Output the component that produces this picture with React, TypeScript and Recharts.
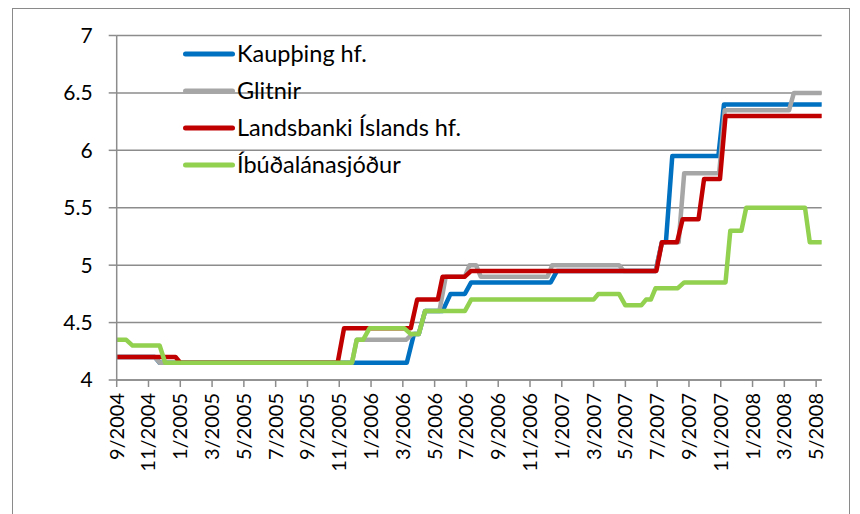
import React from "react";
import { LineChart, Line, XAxis, YAxis, CartesianGrid, Legend } from "recharts";

// x positions are in months since 9/2004
const tickMonths = [0, 2, 4, 6, 8, 10, 12, 14, 16, 18, 20, 22, 24, 26, 28, 30, 32, 34, 36, 38, 40, 42, 44];
const tickLabels = [
  "9/2004", "11/2004", "1/2005", "3/2005", "5/2005", "7/2005", "9/2005", "11/2005",
  "1/2006", "3/2006", "5/2006", "7/2006", "9/2006", "11/2006", "1/2007", "3/2007",
  "5/2007", "7/2007", "9/2007", "11/2007", "1/2008", "3/2008", "5/2008",
];
const yTicks = [4, 4.5, 5, 5.5, 6, 6.5, 7];

const seriesNames = ["Kaupþing hf.", "Glitnir", "Landsbanki Íslands hf.", "Íbúðalánasjóður"];
const seriesColors = ["#0070C0", "#A6A6A6", "#C00000", "#92D050"];

const kaupthingX = [0, 2.4, 2.7, 18.25, 18.7, 19.0, 19.4, 20.5, 21.0, 21.9, 22.3, 27.3, 27.7, 33.9, 34.3, 34.55, 34.95, 37.85, 38.2, 44.32];
const kaupthingY = [4.2, 4.2, 4.15, 4.15, 4.4, 4.4, 4.6, 4.6, 4.75, 4.75, 4.85, 4.85, 4.95, 4.95, 5.2, 5.2, 5.95, 5.95, 6.4, 6.4];

const glitnirX = [0, 2.4, 2.7, 14.8, 15.1, 18.2, 18.6, 19.0, 19.4, 20.3, 20.7, 21.9, 22.2, 22.6, 22.9, 27.1, 27.4, 31.6, 31.9, 33.9, 34.3, 35.35, 35.7, 37.9, 38.25, 42.3, 42.6, 44.32];
const glitnirY = [4.2, 4.2, 4.15, 4.15, 4.35, 4.35, 4.4, 4.4, 4.6, 4.6, 4.9, 4.9, 5.0, 5.0, 4.9, 4.9, 5.0, 5.0, 4.95, 4.95, 5.2, 5.2, 5.8, 5.8, 6.35, 6.35, 6.5, 6.5];

const landsbankiX = [0, 3.7, 4.0, 13.9, 14.3, 18.5, 18.9, 20.2, 20.5, 21.9, 22.3, 33.95, 34.3, 35.25, 35.6, 36.6, 36.95, 37.95, 38.3, 44.32];
const landsbankiY = [4.2, 4.2, 4.15, 4.15, 4.45, 4.45, 4.7, 4.7, 4.9, 4.9, 4.95, 4.95, 5.2, 5.2, 5.4, 5.4, 5.75, 5.75, 6.3, 6.3];

const ibudalanX = [0, 0.6, 1.0, 2.7, 3.05, 14.8, 15.1, 15.5, 15.9, 18.1, 18.5, 19.0, 19.4, 21.9, 22.3, 30.0, 30.3, 31.6, 32.0, 33.0, 33.3, 33.6, 33.9, 35.3, 35.7, 38.3, 38.6, 39.3, 39.6, 43.3, 43.6, 44.32];
const ibudalanY = [4.35, 4.35, 4.3, 4.3, 4.15, 4.15, 4.35, 4.35, 4.45, 4.45, 4.4, 4.4, 4.6, 4.6, 4.7, 4.7, 4.75, 4.75, 4.65, 4.65, 4.7, 4.7, 4.8, 4.8, 4.85, 4.85, 5.3, 5.3, 5.5, 5.5, 5.2, 5.2];

const toPoints = (xs: number[], ys: number[]) => xs.map((x, i) => ({ x, y: ys[i] }));
const seriesData = [
  toPoints(kaupthingX, kaupthingY),
  toPoints(glitnirX, glitnirY),
  toPoints(landsbankiX, landsbankiY),
  toPoints(ibudalanX, ibudalanY),
];

const FONT = "Lato, 'Open Sans', sans-serif";
const AXIS = "#8c8c8c";

const XTick = (props: any) => {
  const { x, y, payload } = props;
  const idx = tickMonths.indexOf(payload.value);
  return (
    <text
      x={x}
      y={y}
      transform={`rotate(-90, ${x}, ${y})`}
      textAnchor="end"
      dy="0.35em"
      fill="#000"
      fontSize={20}
      fontFamily={FONT}
    >
      {idx >= 0 ? tickLabels[idx] : ""}
    </text>
  );
};

const renderLegend = () => (
  <div style={{ fontFamily: FONT, fontSize: 23.5, color: "#000", lineHeight: 1 }}>
    {seriesNames.map((n, i) => (
      <div key={n} style={{ display: "flex", alignItems: "center", height: 37, whiteSpace: "nowrap" }}>
        <svg width={57} height={10} style={{ display: "block" }}>
          <line x1={5.5} y1={5} x2={52.5} y2={5} stroke={seriesColors[i]} strokeWidth={5} strokeLinecap="round" />
        </svg>
        <span>{n}</span>
      </div>
    ))}
  </div>
);

export default function App() {
  return (
    <div style={{ position: "absolute", left: 0, top: 0, width: 860, height: 514, overflow: "hidden", background: "#fff" }}>
      <div
        style={{
          position: "absolute",
          left: 12,
          top: 8,
          width: 838,
          height: 540,
          border: "1.5px solid #8a8a8a",
          boxSizing: "border-box",
        }}
      />
      <div style={{ position: "absolute", left: 0, top: 0 }}>
        <LineChart width={860} height={514} margin={{ top: 35.5, right: 38.3, left: 0, bottom: 0 }}>
          <CartesianGrid horizontal vertical={false} stroke={AXIS} strokeWidth={1.5} />
          <XAxis
            type="number"
            dataKey="x"
            domain={[0, 44.35]}
            ticks={tickMonths}
            interval={0}
            height={134}
            tick={<XTick />}
            tickSize={7}
            tickMargin={6}
            stroke={AXIS}
            strokeWidth={1.5}
            tickLine={{ stroke: AXIS, strokeWidth: 1.5 }}
            allowDataOverflow
          />
          <YAxis
            type="number"
            domain={[4, 7]}
            ticks={yTicks}
            width={116.7}
            tickSize={8}
            tickMargin={16}
            stroke={AXIS}
            strokeWidth={1.5}
            tick={{ fill: "#000", fontSize: 21, fontFamily: FONT }}
            tickLine={{ stroke: AXIS, strokeWidth: 1.5 }}
          />
          <Legend
            layout="horizontal"
            verticalAlign="middle"
            align="center"
            wrapperStyle={{ position: "absolute", left: 180, top: 35, width: "auto", height: "auto" }}
            content={renderLegend}
          />
          {seriesData.map((d, i) => (
            <Line
              key={seriesNames[i]}
              data={d}
              dataKey="y"
              name={seriesNames[i]}
              type="linear"
              stroke={seriesColors[i]}
              strokeWidth={4.5}
              strokeLinejoin="round"
              strokeLinecap="round"
              dot={false}
              activeDot={false}
              isAnimationActive={false}
            />
          ))}
        </LineChart>
      </div>
    </div>
  );
}
